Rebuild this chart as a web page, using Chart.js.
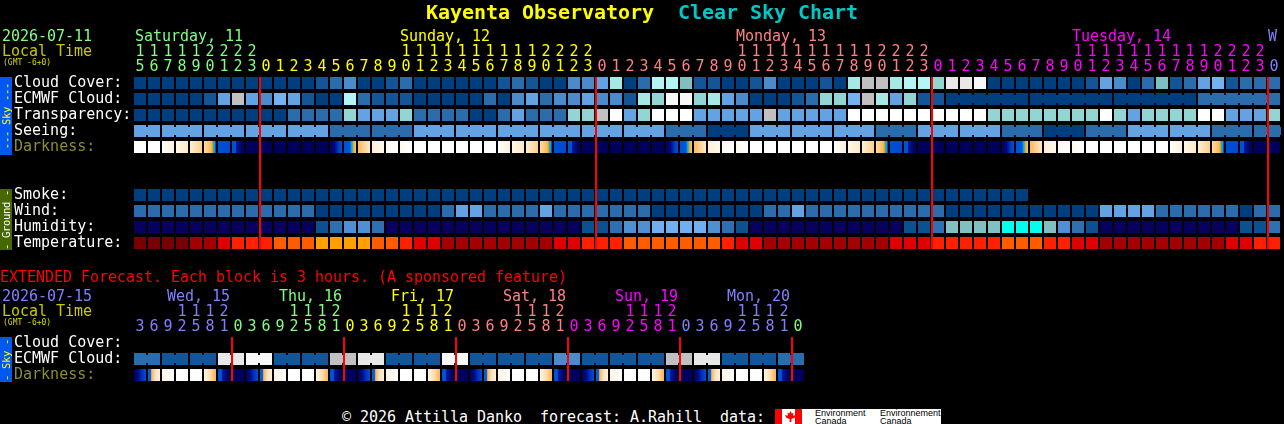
<!DOCTYPE html>
<html lang="en">
<head>
<meta charset="UTF-8">
<title>Kayenta Observatory Clear Sky Chart</title>
<script src="https://cdn.jsdelivr.net/npm/chart.js"></script>
<style>
    html, body { margin: 0; padding: 0; background: #000; overflow: hidden; }
    body { position: relative; width: 1284px; height: 424px; }
    canvas { position: absolute; left: 0; }
    #mainChart { top: 0; }
    #extChart { top: 260px; }
    .t {
        position: absolute; white-space: pre; height: 16px; line-height: 16px;
        font: 15px/16px "DejaVu Sans Mono", monospace; letter-spacing: -0.03px;
    }
    .title { font-weight: bold; font-size: 20px; height: 24px; line-height: 24px; top: 0; color: #ffff00; letter-spacing: -0.04px; }
    .gmt { font-size: 8px; letter-spacing: 0; color: #d8d800; }
    .strip { position: absolute; left: 0; width: 12px; }
    .strip span {
        position: absolute; left: 6px; top: 50%; white-space: pre;
        font: 10.5px/12px "DejaVu Sans Mono", monospace; letter-spacing: -0.3px;
        transform: translate(-50%, -50%) rotate(-90deg);
    }
    #logo { position: absolute; left: 775px; top: 409px; width: 166px; height: 15px; background: #fff; overflow: hidden; }
    #logo i { position: absolute; top: 0; height: 15px; width: 7px; background: #f00; }
    #logo b {
        position: absolute; left: 10px; top: 2px; width: 11px; height: 11px; background: #f00;
        clip-path: polygon(50% 0, 62% 22%, 78% 16%, 72% 42%, 100% 38%, 88% 62%, 58% 72%, 58% 100%, 42% 100%, 42% 72%, 12% 62%, 0 38%, 28% 42%, 22% 16%, 38% 22%);
    }
    #logo span { position: absolute; top: 0; color: #000; font: 9px/8px "Liberation Sans", sans-serif; white-space: pre; }
</style>
</head>
<body>
<canvas id="mainChart" width="1284" height="251"></canvas>
<canvas id="extChart" width="808" height="123"></canvas>

<div class="t title" style="left:426px">Kayenta Observatory</div>
<div class="t title" style="left:678px;color:#00c8c8">Clear Sky Chart</div>

<div class="t" style="left:2px;top:28px;color:#80ff80">2026-07-11</div>
<div class="t" style="left:2px;top:43px;color:#c8c800">Local Time</div>
<div class="t gmt" style="left:3px;top:55px">(GMT -6+0)</div>
<div class="t" style="left:135px;top:28px;color:#80ff80">Saturday, 11</div>
<div class="t" style="left:400px;top:28px;color:#ffff00">Sunday, 12</div>
<div class="t" style="left:736px;top:28px;color:#ff8080">Monday, 13</div>
<div class="t" style="left:1072px;top:28px;color:#ff00ff">Tuesday, 14</div>
<div class="t" style="left:1268px;top:28px;color:#8080ff">W</div>

<div class="t" style="left:0;top:269px;color:#ff0000">EXTENDED Forecast. Each block is 3 hours. (A sponsored feature)</div>
<div class="t" style="left:2px;top:288px;color:#8080ff">2026-07-15</div>
<div class="t" style="left:2px;top:303px;color:#c8c800">Local Time</div>
<div class="t gmt" style="left:3px;top:315px">(GMT -6+0)</div>
<div class="t" style="left:167px;top:288px;color:#8080ff">Wed, 15</div>
<div class="t" style="left:279px;top:288px;color:#80ff80">Thu, 16</div>
<div class="t" style="left:391px;top:288px;color:#ffff00">Fri, 17</div>
<div class="t" style="left:503px;top:288px;color:#ff8080">Sat, 18</div>
<div class="t" style="left:615px;top:288px;color:#ff00ff">Sun, 19</div>
<div class="t" style="left:727px;top:288px;color:#8080ff">Mon, 20</div>

<div class="strip" style="top:77px;height:78px;background:#0058f0"><span style="color:#ffff00">--- Sky ---</span></div>
<div class="strip" style="top:189px;height:61px;background:#476800"><span style="color:#ffffff">- Ground -</span></div>
<div class="strip" style="top:337px;height:45px;background:#0058f0"><span style="color:#ffff00">- Sky -</span></div>

<div class="t" style="left:342px;top:409px;color:#ffffff">© 2026 Attilla Danko  forecast: A.Rahill  data:</div>
<div id="logo">
    <i style="left:0"></i><b></b><i style="left:20px"></i>
    <span style="left:40px">Environment
Canada</span>
    <span style="left:105px">Environnement
Canada</span>
</div>

<script>
// hours along the top, one per column
const hours = [15,16,17,18,19,20,21,22,23,
    0,1,2,3,4,5,6,7,8,9,10,11,12,13,14,15,16,17,18,19,20,21,22,23,
    0,1,2,3,4,5,6,7,8,9,10,11,12,13,14,15,16,17,18,19,20,21,22,23,
    0,1,2,3,4,5,6,7,8,9,10,11,12,13,14,15,16,17,18,19,20,21,22,23,
    0];
const hourDays = [0,0,0,0,0,0,0,0,0,
    1,1,1,1,1,1,1,1,1,1,1,1,1,1,1,1,1,1,1,1,1,1,1,1,
    2,2,2,2,2,2,2,2,2,2,2,2,2,2,2,2,2,2,2,2,2,2,2,2,
    3,3,3,3,3,3,3,3,3,3,3,3,3,3,3,3,3,3,3,3,3,3,3,3,
    4];
const extHours = [3,6,9,12,15,18,21,
    0,3,6,9,12,15,18,21, 0,3,6,9,12,15,18,21, 0,3,6,9,12,15,18,21,
    0,3,6,9,12,15,18,21, 0,3,6,9,12,15,18,21, 0];
const extHourDays = [4,4,4,4,4,4,4,
    0,0,0,0,0,0,0,0, 1,1,1,1,1,1,1,1, 2,2,2,2,2,2,2,2,
    3,3,3,3,3,3,3,3, 4,4,4,4,4,4,4,4, 0];
const dayColors = ['#80ff80','#ffff00','#ff8080','#ff00ff','#8080ff'];

const rowLabels = ['Cloud Cover:','ECMWF Cloud:','Transparency:','Seeing:','Darkness:','','','Smoke:','Wind:','Humidity:','Temperature:'];
const extRowLabels = ['Cloud Cover:','ECMWF Cloud:','Darkness:'];
const midnights = [9,33,57,81];
const extMidnights = [7,15,23,31,39,47];

// levels index into skyColors
const cloudCover = [0,0,0,0,0,0,0,0,0, 0,0,0,0,1,2,3,0,0,1,2,0, 0,0,0,0,0,1,2,1,0,0,3,3,4,8,0,2,9,9,6,1,1,0,0,1,3,0,0,0,1,0,8,
    10,10,8,9,9,7,11,11,12, 0,0,0,0,0,0,0,1,4,3,0,2,6,1,2,4,5,1,2,2,2];
const ecmwfCloud = [0,0,0,0,0,1,4,10,4,3,5,4,1,0,0,9,2,1,1,1,0, 0,0,0,0,2,0,3,4,2,3,3,4,3,3,1,8,7,12,12,7,8,4,3,0,0,0,1,2,7,7,5,
    10,8,4,7,1,1, 0,0,0,0,0,0,0,0,0,0,0,0,0,0,0,0,0,0, 2,2,2,2,2,2];
const transparency = [0,0,0,0,0,0,0,0,0,0,0,2,2,2,2,7,4,4,4,7,2, 2,2,2,0,0,2,4,2,2,2,7,7,10,13,4,7,13,13,13,4,4,4,4,4,10,4,4,4,4,4,13,
    13,13,13,13,13,13,13,13,13, 7,7,7,7,7,7,7,7,13,7,4,7,7,7,7,13,13,4,4,4,7];
const seeing = [4,4,4,4,4,4,4,4,4,4,4,4,4,4,2,2,2,2,2,2, 4,4,4,4,4,4,4,4,4,4,4,4,4,4,4,4,4,4,2,2,2,0,0,0,
    4,4,4,4,4,4,4,4,4, 2,2,2,4,4,4,4,4,4,2,2,2,0,0,0,2,2,2,4,4,4,4,4,4,2,2,2,2,2];
const seeingGroups = [2,3,3,3,3,3,3,3,3,3,3,3,3,3,3,3,3,3,3,3,3,3,3,3,3,3,3,3,2];
const ecmwfGroups = [6,6,6,6];
const ecmwfGroupStart = 58;

// darkness levels index into darkStops
const darkness = [0,0,1,2,3,4,5,6,7,7,7,7,7,7,8,9,10,11,12,12, 0,0,0,0,0,0,
    1,2,3,4,5,6,7,7,7,7,7,7,8,9,10,11,12,12, 0,0,0,0,0,0,
    1,2,3,4,5,6,7,7,7,7,7,7,8,9,10,11,12,12, 0,0,0,0,0,0,
    1,2,3,4,5,6,7,7];

const smoke = [0,0,0,0,0,0,0,0,0,0,0,0,0,0,0,0,0,0,0,0,0,0,0,0,0,0,0,0,0,0,0,0,
    0,0,0,0,0,0,0,0,0,0,0,0,0,0,0,0,0,0,0,0,0,0,0,0,0,0,0,0,0,0,0,0];
const wind = [2,2,2,2,2,2,2,2,2,2,2,2,2,0,0,0,0,0,0,0,0, 0,2,4,4,2,2,2,2,4,2,2,2,2,2,2,2,0,0,0,0,0,0,0,0,2,2,4,2,2,2,2,
    2,2,2,2,2,2, 0,0,0,0,0,0,0,0,0,0,0,4,4,4,4,2,2,2,2,2,2,0,2,2];
// index into humidColors
const humidity = [0,0,0,0,0,0,0,0,0,0,0,0,0,1,2,3,3,2,0,0,0, 0,0,0,0,0,0,0,0,0,0,0,1,1,2,3,3,4,4,4,4,3,2,1,0,0,0,0,0,0,0,0,
    0,0,0,1,1,2,5,5,5,5,6,6,6,5,3,2,1,0,0,0,0,0,0,0,0,0,0,1,1,2];
// index into tempColors
const temperature = [0,0,0,0,1,1,2,3,3,3,4,4,4,5,5,5,5,4,4,3,2, 2,1,1,1,1,1,1,1,1,2,2,3,3,3,4,4,4,4,4,4,4,3,2,2,1,1,1,1,1,1,1,
    1,1,2,2,2,3,3,3,3,3,4,4,4,3,3,2,2,1,1,1,1,1,1,1,1,1,2,2,3,3];

// extended forecast, one level per 3h block
const extCloud = [2,1,1,11,12,1,1,10,11,1,1,12,1,1,1,3,1,1,1,10,11,1,1,2];
const extDarkness = [13,14,15,0,0,16,6,7, 13,14,15,0,0,16,6,7, 13,14,15,0,0,16,6,7,
    13,14,15,0,0,16,6,7, 13,14,15,0,0,16,6,7, 13,14,15,0,0,16,6,7];

const skyColors = ['#003f7f','#135596','#2b6cad','#4b8bcc','#63a2e3','#74b3ee','#7fbfbf','#93d5d3','#a5e8e6','#b4f6f6','#c0c0c0','#e8e8e8','#f8f8f8','#ffffff'];
const humidColors = ['#08005f','#0b5090','#2f70b3','#4f8fd4','#70b0f0','#80c0c0','#00ffee'];
const tempColors = ['#780000','#a40000','#e00000','#ff2000','#ff5c00','#ffa000'];
const darkStops = [
    [[0,'#ffffff'],[1,'#ffffff']],
    [[0,'#ffffff'],[1,'#fff0dc']],
    [[0,'#fff8ea'],[1,'#ffe8c8']],
    [[0,'#ffeed6'],[1,'#ffcf90']],
    [[0,'#ffdca8'],[.6,'#ffb84e'],[.7,'#f0a030'],[.78,'#30b090'],[.88,'#00a0e8'],[.9,'#0050d8'],[1,'#0050d8']],
    [[0,'#0050d8'],[1,'#0048d0']],
    [[0,'#0050d8'],[.3,'#0050d8'],[.34,'#001a90'],[.7,'#000870'],[1,'#00005c']],
    [[0,'#00005c'],[1,'#00005c']],
    [[0,'#00005c'],[.4,'#000a80'],[.75,'#0040c0'],[1,'#0050d8']],
    [[0,'#0050d8'],[.5,'#0058d8'],[.6,'#00a0e0'],[.72,'#30c0a0'],[.78,'#f0a030'],[1,'#ffc070']],
    [[0,'#ffb860'],[1,'#ffe8c8']],
    [[0,'#ffeed8'],[1,'#fff8ee']],
    [[0,'#fff8f0'],[1,'#ffffff']],
    [[0,'#00005c'],[.35,'#000a80'],[.65,'#0030b0'],[1,'#0050d8']],
    [[0,'#0060d8'],[.22,'#0060d8'],[.3,'#ffb050'],[.6,'#ffe0b8'],[1,'#fff4e6']],
    [[0,'#fff4e4'],[1,'#ffffff']],
    [[0,'#fff4e4'],[.6,'#ffd8a8'],[1,'#ffb050']]
];

const cellHalf = 0.375;  // 12px of the 16px row
const joinHalf = 0.25;

function cellRow(row, levels, colors) {
    return {
        data: levels.map((v, i) => ({ x: i, y: [row - cellHalf, row + cellHalf] })),
        backgroundColor: levels.map(v => colors[v]),
        barThickness: 12,
        order: 1
    };
}

// small bars bridging neighbouring cells that belong to one forecast step
function joinRow(row, levels, colors, groups, start) {
    const data = [], backgroundColor = [];
    let col = start;
    groups.forEach(size => {
        for (let i = col; i < col + size - 1; i++) {
            data.push({ x: i + 0.5, y: [row - joinHalf, row + joinHalf] });
            backgroundColor.push(colors[levels[i]]);
        }
        col += size;
    });
    return { data, backgroundColor, barThickness: 2, order: 2 };
}

function darkRow(row, levels) {
    return {
        data: levels.map((v, i) => ({ x: i, y: [row - cellHalf, row + cellHalf] })),
        backgroundColor: ctx => {
            const px = ctx.chart.scales.x.getPixelForValue(ctx.dataIndex);
            if (ctx.dataIndex === undefined || !Number.isFinite(px)) return '#000';
            const g = ctx.chart.ctx.createLinearGradient(px - 6, 0, px + 6, 0);
            darkStops[levels[ctx.dataIndex]].forEach(s => g.addColorStop(s[0], s[1]));
            return g;
        },
        barThickness: 12,
        order: 1
    };
}

function midnightLines(cols, lastRow) {
    return {
        data: cols.map(c => ({ x: c - 6 / 14, y: [-cellHalf, lastRow + cellHalf] })),
        backgroundColor: '#ff0000',
        barThickness: 2,
        order: 0
    };
}

// the grid is pixel exact, so labels must not push the chart area around
function noScalePadding(axis) {
    axis.paddingLeft = axis.paddingRight = axis.paddingTop = axis.paddingBottom = 0;
}

function drawChart(id, hourList, dayList, rows, datasets) {
    return new Chart(document.getElementById(id), {
        type: 'bar',
        data: { datasets },
        options: {
            responsive: false,
            animation: false,
            events: [],
            devicePixelRatio: 1,
            layout: { padding: { left: 14, right: 3, top: 0, bottom: 0 } },
            plugins: { legend: { display: false }, tooltip: { enabled: false }, title: { display: false } },
            datasets: { bar: { grouped: false, inflateAmount: 0, borderWidth: 0 } },
            scales: {
                x: {
                    type: 'linear',
                    position: 'top',
                    offset: false,
                    min: -0.5,
                    max: hourList.length - 0.5,
                    grid: { display: false, drawTicks: false },
                    border: { display: false },
                    afterBuildTicks: axis => { axis.ticks = hourList.map((h, i) => ({ value: i })); },
                    afterFit: axis => { axis.height = 75; noScalePadding(axis); },
                    ticks: {
                        autoSkip: false,
                        maxRotation: 0,
                        padding: 0,
                        font: { family: '"DejaVu Sans Mono", monospace', size: 15, lineHeight: '15px' },
                        color: ctx => dayColors[dayList[ctx.index]],
                        callback: v => {
                            const h = hourList[v];
                            return [h >= 10 ? String(Math.floor(h / 10)) : ' ', String(h % 10)];
                        }
                    }
                },
                y: {
                    type: 'linear',
                    reverse: true,
                    min: -0.5,
                    max: rows.length - 0.5,
                    grid: { display: false, drawTicks: false },
                    border: { display: false },
                    afterBuildTicks: axis => { axis.ticks = rows.map((r, i) => ({ value: i })); },
                    afterFit: axis => { axis.width = 119; noScalePadding(axis); },
                    ticks: {
                        autoSkip: false,
                        crossAlign: 'far',
                        font: { family: '"DejaVu Sans Mono", monospace', size: 15 },
                        color: ctx => rows[ctx.index] === 'Darkness:' ? '#8c8c30' : '#ffffff',
                        callback: v => rows[v]
                    }
                }
            }
        }
    });
}

drawChart('mainChart', hours, hourDays, rowLabels, [
    midnightLines(midnights, 10),
    cellRow(0, cloudCover, skyColors),
    cellRow(1, ecmwfCloud, skyColors),
    joinRow(1, ecmwfCloud, skyColors, ecmwfGroups, ecmwfGroupStart),
    cellRow(2, transparency, skyColors),
    cellRow(3, seeing, skyColors),
    joinRow(3, seeing, skyColors, seeingGroups, 0),
    darkRow(4, darkness),
    cellRow(7, smoke, skyColors),
    cellRow(8, wind, skyColors),
    cellRow(9, humidity, humidColors),
    cellRow(10, temperature, tempColors)
]);

// each extended level covers two columns
const extCloudCols = extCloud.flatMap(v => [v, v]);
drawChart('extChart', extHours, extHourDays, extRowLabels, [
    midnightLines(extMidnights, 2),
    cellRow(1, extCloudCols, skyColors),
    joinRow(1, extCloudCols, skyColors, extCloud.map(() => 2), 0),
    darkRow(2, extDarkness)
]);
</script>
</body>
</html>
